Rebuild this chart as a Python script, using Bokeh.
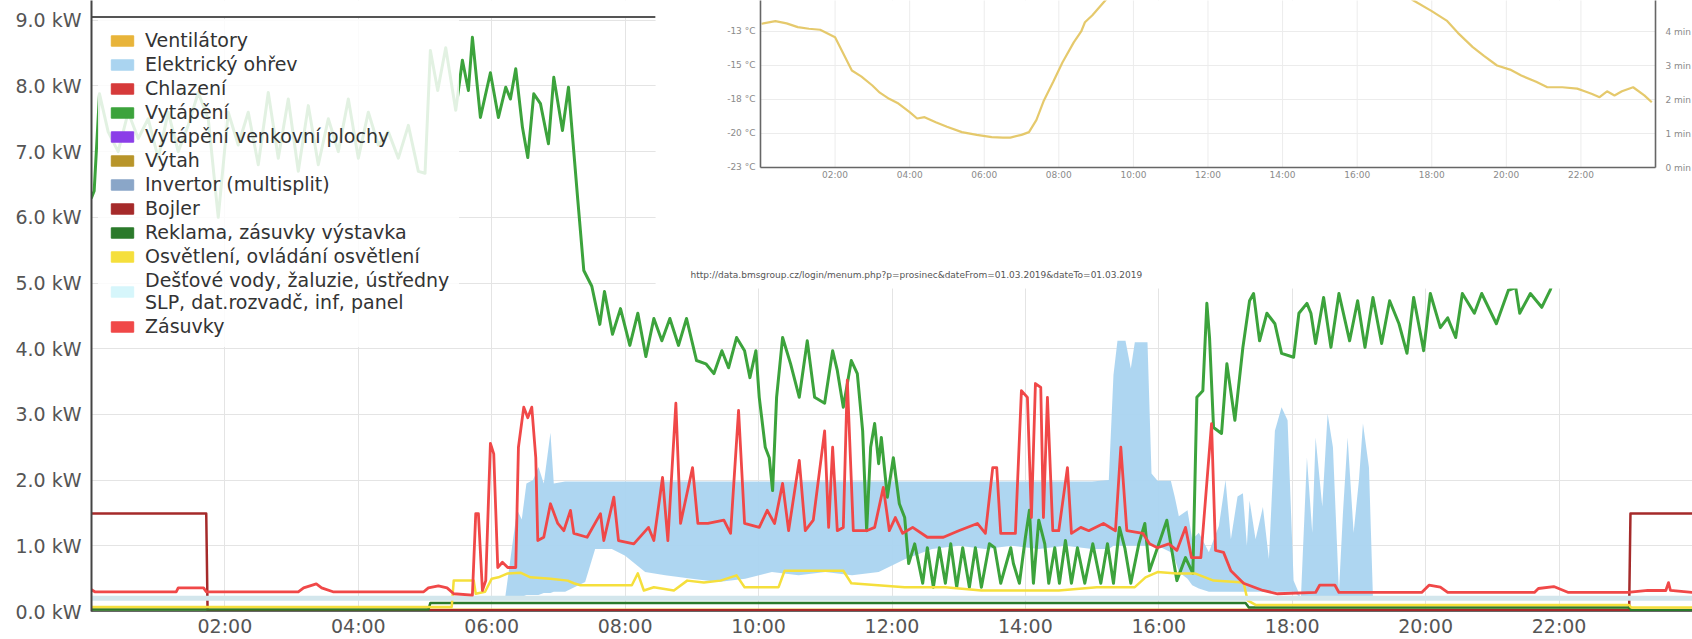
from bokeh.plotting import figure
from bokeh.models import Range1d, FixedTicker, Legend, LegendItem
from bokeh.core.properties import value
from bokeh.embed import file_html
from bokeh.resources import INLINE

FONT = "DejaVu Sans"
NAN = float("nan")

# ---------------- data (hours of day, kW) ----------------
series_names = ["Ventilátory", "Elektrický ohřev", "Chlazení", "Vytápění",
                "Vytápění venkovní plochy", "Výtah", "Invertor (multisplit)", "Bojler",
                "Reklama, zásuvky výstavka", "Osvětlení, ovládání osvětlení",
                "Dešťové vody, žaluzie, ústředny\nSLP, dat.rozvadč, inf, panel", "Zásuvky"]
series_colors = ["#e8b43a", "#aad4f0", "#d63a3a", "#3ca33c", "#8b3ee8", "#b8952a",
                 "#8aa6c8", "#a52a2a", "#2b7a2b", "#f5df3c", "#d6f6fb", "#f04848"]

x_tick_hours = [2, 4, 6, 8, 10, 12, 14, 16, 18, 20, 22]
x_tick_labels = ["02:00", "04:00", "06:00", "08:00", "10:00", "12:00",
                 "14:00", "16:00", "18:00", "20:00", "22:00"]
y_tick_values = [0, 1, 2, 3, 4, 5, 6, 7, 8, 9]
y_tick_labels = ["0.0 kW", "1.0 kW", "2.0 kW", "3.0 kW", "4.0 kW",
                 "5.0 kW", "6.0 kW", "7.0 kW", "8.0 kW", "9.0 kW"]

ventilatory_t = [0.0, 24.0]
ventilatory_kw = [0.03, 0.03]
chlazeni_t = [0.0, 24.0]
chlazeni_kw = [0.0, 0.0]
venkovni_t = [0.0, 24.0]
venkovni_kw = [0.0, 0.0]
vytah_t = [0.0, 24.0]
vytah_kw = [0.01, 0.01]
invertor_t = [0.0, 24.0]
invertor_kw = [0.0, 0.0]
destove_t = [0.0, 24.0]
destove_kw = [0.2, 0.2]

ohrev_t = [6.20, 6.30, 6.38, 6.45, 6.52, 6.62, 6.70, 6.78, 6.88, 6.93, 7.10, 7.40, 7.55, 7.80,
           8.00, 8.30, 8.60, 9.00, 9.40, 9.80, 10.20, 10.60, 11.00, 11.40, 11.80, 12.20, 12.60,
           13.00, 13.40, 13.80, 14.20, 14.60, 15.00, 15.25, 15.32, 15.38, 15.50, 15.58, 15.64,
           15.83, 15.89, 15.98, 16.18, 16.24, 16.30, 16.43, 16.50, 16.60, 16.75, 16.90, 17.00,
           17.08, 17.18, 17.26, 17.32, 17.36, 17.45, 17.56, 17.65, 17.74, 17.84, 17.93, 18.02,
           18.13, 18.22, 18.30, 18.35, 18.45, 18.53, 18.61, 18.70, 18.76, 18.83, 18.92, 19.00,
           19.06, 19.15, 19.21]
ohrev_lo = [0.20, 0.20, 0.22, 0.22, 0.25, 0.25, 0.25, 0.28, 0.28, 0.30, 0.30, 0.45, 0.95, 0.95,
            0.85, 0.60, 0.55, 0.50, 0.45, 0.50, 0.60, 0.55, 0.60, 0.55, 0.60, 0.80, 0.95,
            1.00, 0.95, 1.00, 0.95, 1.00, 0.95, 0.95, 1.00, 1.00, 1.00, 1.00, 1.00,
            1.00, 1.00, 1.00, 0.90, 0.80, 0.60, 0.50, 0.40, 0.35, 0.30, 0.30, 0.30,
            0.30, 0.30, 0.30, 0.30, 0.30, 0.30, 0.30, 0.30, 0.30, 0.30, 0.30, 0.30,
            0.20, 0.20, 0.20, 0.20, 0.20, 0.20, 0.20, 0.20, 0.20, 0.20, 0.20, 0.20,
            0.20, 0.20, 0.20]
ohrev_hi = [0.20, 0.95, 1.55, 1.40, 1.95, 2.00, 2.20, 1.95, 2.72, 1.95, 1.98, 1.98, 1.98, 1.98,
            1.98, 1.98, 1.98, 1.98, 1.98, 1.98, 1.98, 1.98, 1.98, 1.98, 1.98, 1.98, 1.98,
            1.98, 1.98, 1.98, 1.98, 1.98, 1.98, 2.00, 3.60, 4.12, 4.12, 3.70, 4.10,
            4.10, 2.10, 1.99, 1.99, 1.74, 1.45, 1.54, 1.10, 1.20, 0.90, 1.30, 2.00,
            1.10, 1.75, 1.80, 1.00, 1.69, 1.10, 1.59, 0.80, 2.75, 3.11, 2.91, 0.47,
            0.21, 2.34, 1.20, 2.65, 1.60, 3.01, 2.50, 0.30, 1.50, 2.65, 1.20, 2.00,
            2.86, 2.19, 0.20]

vytapeni_t = [0.00, 0.04, 0.12, 0.25, 0.40, 0.55, 0.70, 0.85, 1.00, 1.15, 1.30, 1.45, 1.60, 1.75,
              1.90, 2.05, 2.20, 2.35, 2.50, 2.65, 2.80, 2.95, 3.10, 3.25, 3.40, 3.55, 3.70, 3.85,
              4.00, 4.15, 4.30, 4.45, 4.60, 4.75, 4.90, 5.00, 5.08, 5.19, 5.31, 5.46, 5.56, 5.65,
              5.71, 5.83, 5.98, 6.10, 6.21, 6.28, 6.36, 6.46, 6.54, 6.63, 6.73, 6.85, 6.93, 7.06,
              7.15, 7.29, 7.38, 7.50, 7.62, 7.69, 7.81, 7.93, 8.07, 8.19, 8.31, 8.43, 8.55, 8.67,
              8.80, 8.92, 9.07, 9.21, 9.33, 9.45, 9.55, 9.67, 9.79, 9.87, 9.96, 10.01, 10.10,
              10.16, 10.21, 10.27, 10.36, 10.48, 10.61, 10.73, 10.84, 10.99, 11.11, 11.18, 11.27,
              11.39, 11.48, 11.56, 11.62, 11.68, 11.74, 11.80, 11.84, 11.93, 12.02, 12.11, 12.19,
              12.25, 12.34, 12.46, 12.53, 12.62, 12.71, 12.80, 12.88, 12.97, 13.06, 13.16, 13.25,
              13.34, 13.46, 13.54, 13.63, 13.78, 13.82, 13.91, 14.00, 14.06, 14.12, 14.20, 14.29,
              14.35, 14.44, 14.51, 14.60, 14.69, 14.78, 14.89, 15.01, 15.13, 15.23, 15.32, 15.41,
              15.49, 15.58, 15.70, 15.79, 15.86, 15.98, 16.12, 16.27, 16.40, 16.51, 16.57, 16.66,
              16.72, 16.76, 16.82, 16.94, 17.02, 17.14, 17.26, 17.36, 17.42, 17.51, 17.62, 17.74,
              17.84, 18.02, 18.10, 18.22, 18.28, 18.35, 18.47, 18.58, 18.70, 18.86, 18.98, 19.09,
              19.21, 19.34, 19.46, 19.60, 19.72, 19.82, 19.97, 20.07, 20.22, 20.33, 20.45, 20.55,
              20.73, 20.84, 21.06, 21.24, 21.35, 21.41, 21.57, 21.74, 21.87, 22.00, 22.30, 22.70,
              23.10, 23.50, 24.00]
vytapeni_kw = [6.30, 6.40, 7.88, 7.30, 7.00, 7.60, 7.20, 7.50, 6.90, 7.60, 7.00, 7.40, 7.90, 7.50,
               6.00, 7.60, 7.10, 7.60, 6.80, 7.90, 6.90, 7.80, 6.70, 7.70, 6.80, 7.50, 7.00, 7.80,
               6.90, 7.60, 7.10, 7.30, 6.90, 7.40, 6.70, 6.67, 8.54, 7.93, 8.58, 7.63, 8.39, 7.93,
               8.74, 7.52, 8.20, 7.52, 7.98, 7.80, 8.26, 7.37, 6.91, 7.88, 7.73, 7.12, 8.13, 7.32,
               7.98, 6.26, 5.19, 4.95, 4.37, 4.87, 4.22, 4.61, 4.05, 4.54, 3.88, 4.46, 4.12, 4.46,
               4.05, 4.46, 3.82, 3.77, 3.62, 3.97, 3.71, 4.17, 3.97, 3.56, 3.97, 3.26, 2.50,
               2.34, 1.84, 3.26, 4.17, 3.77, 3.26, 4.12, 3.26, 3.17, 3.97, 3.67, 3.11,
               3.82, 3.62, 2.75, 1.23, 2.50, 2.86, 2.25, 2.65, 1.74, 2.34, 1.64, 1.43,
               0.73, 1.03, 0.43, 0.97, 0.37, 0.97, 0.43, 1.03, 0.37, 0.97, 0.37, 0.97,
               0.37, 1.03, 0.97, 0.43, 0.97, 0.73, 0.43, 1.13, 1.54, 0.43, 1.39, 1.03,
               0.43, 0.97, 0.43, 1.08, 0.43, 0.97, 0.43, 1.03, 0.43, 1.03, 0.43, 1.28,
               0.97, 0.43, 1.03, 1.34, 0.62, 0.97, 1.39, 0.47, 0.82, 0.58, 3.26, 3.36,
               4.69, 4.17, 2.80, 2.71, 3.77, 2.91, 4.02, 4.73, 4.84, 4.12, 4.54, 4.38,
               3.93, 3.87, 4.54, 4.69, 4.54, 4.08, 4.78, 4.02, 4.84, 4.12, 4.73, 4.02,
               4.78, 4.08, 4.73, 4.38, 3.93, 4.78, 3.97, 4.84, 4.32, 4.47, 4.17, 4.84,
               4.54, 4.84, 4.38, 4.89, 4.93, 4.54, 4.84, 4.63, 4.90, 5.30, 5.60, 5.80,
               5.90, 5.90, 6.00]

bojler_t = [0.00, 1.72, 1.74, 23.05, 23.07, 24.00]
bojler_kw = [1.49, 1.49, 0.02, 0.02, 1.49, 1.49]

reklama_t = [0.00, 5.05, 5.08, 17.30, 17.35, 23.05, 23.08, 24.00]
reklama_kw = [0.03, 0.03, 0.13, 0.13, 0.06, 0.06, 0.02, 0.02]

osvetleni_t = [0.00, 5.40, 5.43, 5.73, 5.76, 5.90, 6.00, 6.10, 6.24, 6.43, 6.58, 6.88, 7.14, 7.23,
               7.33, 8.10, 8.19, 8.28, 8.43, 8.73, 8.93, 9.18, 9.43, 9.67, 9.79, 10.30, 10.39,
               11.27, 11.39, 12.19, 12.80, 13.34, 14.50, 15.07, 15.64, 15.80, 15.98, 16.27, 16.54,
               16.82, 17.27, 17.33, 17.45, 23.05, 23.08, 24.00]
osvetleni_kw = [0.07, 0.07, 0.47, 0.47, 0.27, 0.30, 0.50, 0.52, 0.58, 0.59, 0.52, 0.50, 0.47, 0.43,
                0.40, 0.40, 0.58, 0.32, 0.37, 0.32, 0.47, 0.44, 0.47, 0.55, 0.37, 0.37, 0.62,
                0.62, 0.43, 0.37, 0.37, 0.32, 0.32, 0.37, 0.37, 0.52, 0.60, 0.58, 0.58,
                0.47, 0.44, 0.17, 0.10, 0.10, 0.06, 0.06]

zasuvky_t = [0.00, 0.05, 1.27, 1.30, 1.68, 1.72, 3.10, 3.18, 3.37, 3.45, 3.62, 4.98, 5.05, 5.20,
             5.33, 5.43, 5.71, 5.76, 5.80, 5.86, 5.91, 5.98, 6.03, 6.09, 6.16, 6.24, 6.36, 6.40,
             6.48, 6.54, 6.60, 6.66, 6.69, 6.78, 6.88, 6.99, 7.08, 7.18, 7.23, 7.43, 7.63, 7.68,
             7.83, 7.90, 8.13, 8.35, 8.43, 8.56, 8.64, 8.76, 8.83, 9.01, 9.09, 9.24, 9.48, 9.58,
             9.70, 9.79, 10.01, 10.13, 10.24, 10.36, 10.45, 10.61, 10.70, 10.82, 10.99, 11.05,
             11.11, 11.18, 11.27, 11.33, 11.42, 11.62, 11.74, 11.87, 11.96, 12.05, 12.16, 12.31,
             12.53, 12.77, 13.00, 13.28, 13.40, 13.51, 13.57, 13.63, 13.85, 13.94, 14.03, 14.09,
             14.15, 14.23, 14.27, 14.33, 14.41, 14.50, 14.63, 14.69, 14.83, 14.95, 15.17, 15.35,
             15.43, 15.52, 15.76, 15.86, 15.98, 16.15, 16.27, 16.40, 16.49, 16.63, 16.79, 16.85,
             16.97, 17.08, 17.27, 17.56, 17.78, 18.35, 18.41, 18.64, 18.70, 19.94, 20.05, 20.22,
             20.33, 21.63, 21.69, 21.92, 22.14, 23.03, 23.33, 23.60, 23.64, 23.67, 24.00]
zasuvky_kw = [0.33, 0.30, 0.30, 0.36, 0.36, 0.30, 0.30, 0.36, 0.42, 0.36, 0.30, 0.30, 0.36, 0.39,
              0.36, 0.27, 0.25, 1.49, 1.49, 0.32, 0.47, 2.56, 2.40, 0.67, 0.75, 0.67, 0.67, 2.50,
              3.11, 2.95, 3.11, 2.34, 1.08, 1.13, 1.64, 1.34, 1.23, 1.54, 1.19, 1.13, 1.49, 1.08,
              1.74, 1.08, 1.03, 1.28, 1.08, 2.04, 1.08, 3.17, 1.34, 2.19, 1.34, 1.34, 1.39, 1.19,
              3.06, 1.34, 1.28, 1.54, 1.34, 1.95, 1.23, 2.30, 1.23, 1.39, 2.75, 1.28,
              2.50, 1.23, 1.28, 3.52, 1.23, 1.23, 1.28, 1.89, 1.23, 1.43, 1.19, 1.28,
              1.13, 1.13, 1.23, 1.34, 1.19, 2.19, 2.19, 1.19, 1.19, 3.36, 3.26, 1.43,
              3.47, 3.41, 1.43, 3.26, 1.23, 1.23, 2.19, 1.19, 1.28, 1.23, 1.34, 1.23,
              2.50, 1.23, 1.19, 1.03, 0.97, 1.03, 0.93, 1.28, 0.82, 0.82, 2.86, 0.93,
              0.90, 0.62, 0.43, 0.32, 0.27, 0.29, 0.40, 0.40, 0.29, 0.29, 0.40, 0.37,
              0.29, 0.29, 0.35, 0.38, 0.29, 0.29, 0.32, 0.32, 0.44, 0.32, 0.29]

# inset: outdoor temperature (hours, °C)
inset_hour_ticks = [2, 4, 6, 8, 10, 12, 14, 16, 18, 20, 22]
inset_hour_labels = ["02:00", "04:00", "06:00", "08:00", "10:00", "12:00",
                     "14:00", "16:00", "18:00", "20:00", "22:00"]
inset_temp_ticks = [-22.5, -20.0, -17.5, -15.0, -12.5]
inset_temp_labels = ["-23 °C", "-20 °C", "-18 °C", "-15 °C", "-13 °C"]
inset_right_ticks = [0, 1, 2, 3, 4]
inset_right_labels = ["0 min", "1 min", "2 min", "3 min", "4 min"]
inset_url = "http://data.bmsgroup.cz/login/menum.php?p=prosinec&dateFrom=01.03.2019&dateTo=01.03.2019"

teplota_t = [0.03, 0.4, 0.7, 1.0, 1.3, 1.6, 2.0, 2.2, 2.45, 2.7, 3.0, 3.2, 3.45, 3.7, 4.0, 4.2,
             4.4, 4.7, 5.0, 5.4, 5.8, 6.2, 6.5, 6.7, 7.0, 7.2, 7.4, 7.6, 7.85, 8.1, 8.4, 8.6,
             8.7, 8.9, 9.25, 10.0, 11.0, 12.0, 13.0, 14.0, 15.0, 16.0, 17.0, 17.5, 18.0, 18.4,
             18.7, 19.1, 19.4, 19.75, 20.1, 20.4, 20.8, 21.1, 21.5, 21.9, 22.1, 22.3, 22.5,
             22.7, 22.9, 23.1, 23.4, 23.7, 23.9]
teplota_c = [-11.93, -11.74, -11.9, -12.18, -12.3, -12.37, -12.92, -14.0, -15.37, -15.8, -16.47,
             -17.0, -17.45, -17.8, -18.43, -18.9, -18.8, -19.17, -19.5, -19.9, -20.1, -20.27,
             -20.3, -20.3, -20.1, -19.9, -19.0, -17.57, -16.2, -14.76, -13.3, -12.5, -11.82,
             -11.3, -10.2, -8.5, -7.0, -6.0, -5.5, -5.5, -6.5, -7.8, -9.3, -10.2, -11.0, -11.7,
             -12.6, -13.65, -14.3, -15.0, -15.3, -15.74, -16.2, -16.6, -16.6, -16.7, -16.9,
             -17.1, -17.33, -16.9, -17.2, -16.9, -16.6, -17.2, -17.7]

# ---------------- layout constants ----------------
X_END = 24.0
Y_TOP = 9.30
TOP_LINE_KW = 9.05
INSET_LEFT_H = 8.456     # main-chart hour where the pasted inset begins
INSET_BOTTOM_KW = 4.916  # main-chart kW where the pasted inset ends

p = figure(width=1692, height=639, output_backend="svg", toolbar_location=None,
           x_range=Range1d(0, X_END), y_range=Range1d(0, Y_TOP),
           min_border_left=91, min_border_right=0, min_border_top=0, min_border_bottom=28)
p.extra_x_ranges = {"ix": Range1d(-17.939, 24.992)}
p.extra_y_ranges = {"iy": Range1d(-55.147, -10.221), "iy2": Range1d(-13.059, 4.912)}
p.outline_line_color = None
p.background_fill_color = "white"
p.border_fill_color = "white"

p.xaxis.ticker = FixedTicker(ticks=x_tick_hours)
p.xaxis.major_label_overrides = dict(zip(x_tick_hours, x_tick_labels))
p.yaxis.ticker = FixedTicker(ticks=y_tick_values)
p.yaxis.major_label_overrides = dict(zip(y_tick_values, y_tick_labels))
for ax in (p.xaxis[0], p.yaxis[0]):
    ax.major_label_text_font = FONT
    ax.major_label_text_font_size = "19px"
    ax.major_label_text_color = "#555555"
    ax.major_tick_line_color = None
    ax.minor_tick_line_color = None
    ax.major_tick_out = 0
    ax.major_tick_in = 0
p.xaxis.major_label_standoff = 3
p.yaxis.major_label_standoff = 10
p.yaxis.axis_line_color = "#444444"
p.yaxis.axis_line_width = 2
p.xaxis.axis_line_color = "#666666"
p.xaxis.axis_line_width = 1
p.xgrid.ticker = FixedTicker(ticks=x_tick_hours)
p.ygrid.ticker = FixedTicker(ticks=y_tick_values)
p.xgrid.grid_line_color = "#e4e4e4"
p.ygrid.grid_line_color = "#e4e4e4"

# ---------------- main series ----------------
c = dict(zip(series_names, series_colors))
p.varea(x=ohrev_t, y1=ohrev_lo, y2=ohrev_hi, fill_color=c["Elektrický ohřev"], fill_alpha=0.95)
lw = dict(line_join="round", line_cap="round")
p.line(ventilatory_t, ventilatory_kw, line_color=c["Ventilátory"], line_width=2, **lw)
p.line(chlazeni_t, chlazeni_kw, line_color=c["Chlazení"], line_width=2, **lw)
p.line(vytapeni_t, vytapeni_kw, line_color=c["Vytápění"], line_width=3, **lw)
p.line(venkovni_t, venkovni_kw, line_color=c["Vytápění venkovní plochy"], line_width=2, **lw)
p.line(vytah_t, vytah_kw, line_color=c["Výtah"], line_width=2, **lw)
p.line(invertor_t, invertor_kw, line_color=c["Invertor (multisplit)"], line_width=2, **lw)
p.line(bojler_t, bojler_kw, line_color=c["Bojler"], line_width=2.5, **lw)
p.line(reklama_t, reklama_kw, line_color=c["Reklama, zásuvky výstavka"], line_width=2.5, **lw)
p.line(osvetleni_t, osvetleni_kw, line_color=c["Osvětlení, ovládání osvětlení"], line_width=2.5, **lw)
p.line(destove_t, destove_kw, line_color="#d3e6ec", line_width=5, **lw)
p.line(zasuvky_t, zasuvky_kw, line_color=c["Zásuvky"], line_width=2.8, **lw)

# top border of the chart and blank strip above it
p.quad(left=0, right=INSET_LEFT_H, bottom=TOP_LINE_KW, top=Y_TOP, fill_color="white", line_color=None)
p.segment(x0=0, y0=TOP_LINE_KW, x1=INSET_LEFT_H, y1=TOP_LINE_KW, line_color="#555555", line_width=2)

# ---------------- pasted inset (temperature chart) ----------------
p.quad(left=INSET_LEFT_H, right=X_END, bottom=INSET_BOTTOM_KW, top=Y_TOP,
       fill_color="white", line_color=None)
IR = dict(x_range_name="ix", y_range_name="iy")
p.segment(x0=inset_hour_ticks, y0=[-22.5] * len(inset_hour_ticks), x1=inset_hour_ticks,
          y1=[-9.0] * len(inset_hour_ticks), line_color="#ececec", line_width=1, **IR)
p.segment(x0=[0] * len(inset_temp_ticks), y0=inset_temp_ticks, x1=[24] * len(inset_temp_ticks),
          y1=inset_temp_ticks, line_color="#ececec", line_width=1, **IR)
p.line(teplota_t, teplota_c, line_color="#e2c35c", line_width=2.2, line_alpha=0.9, **IR)
p.segment(x0=[0, 24, 0], y0=[-22.5, -22.5, -22.5], x1=[0, 24, 24], y1=[-9.0, -9.0, -22.5],
          line_color="#666666", line_width=1.6, **IR)
p.text(x=inset_hour_ticks, y=[-22.5] * len(inset_hour_ticks), text=inset_hour_labels,
       text_font=value(FONT), text_font_size="9px", text_color="#8a8a8a",
       text_align="center", text_baseline="top", y_offset=3, **IR)
p.text(x=[0] * len(inset_temp_ticks), y=inset_temp_ticks, text=inset_temp_labels,
       text_font=value(FONT), text_font_size="9px", text_color="#8a8a8a",
       text_align="right", text_baseline="middle", x_offset=-5, **IR)
p.text(x=[24] * len(inset_right_ticks), y=inset_right_ticks, text=inset_right_labels,
       text_font=value(FONT), text_font_size="9px", text_color="#8a8a8a",
       text_align="left", text_baseline="middle", x_offset=10,
       x_range_name="ix", y_range_name="iy2")
p.text(x=[-1.877], y=[-30.44], text=[inset_url], text_font=value(FONT),
       text_font_size="9px", text_color="#555555", text_align="left",
       text_baseline="middle", **IR)

# ---------------- legend ----------------
items = []
for name, col in zip(series_names, series_colors):
    r = p.quad(left=[NAN], right=[NAN], top=[NAN], bottom=[NAN], fill_color=col, line_color=col)
    items.append(LegendItem(label=name, renderers=[r], index=0))
legend = Legend(items=items, location=(7, 264), label_text_font=FONT,
                label_text_font_size="19px", label_text_color="#333333",
                glyph_width=28, glyph_height=13, label_standoff=9, label_height=20,
                spacing=2, padding=10, margin=0, background_fill_color="white",
                background_fill_alpha=0.85, border_line_alpha=0)
p.add_layout(legend)

open("out.html", "w").write(file_html(p, INLINE))
